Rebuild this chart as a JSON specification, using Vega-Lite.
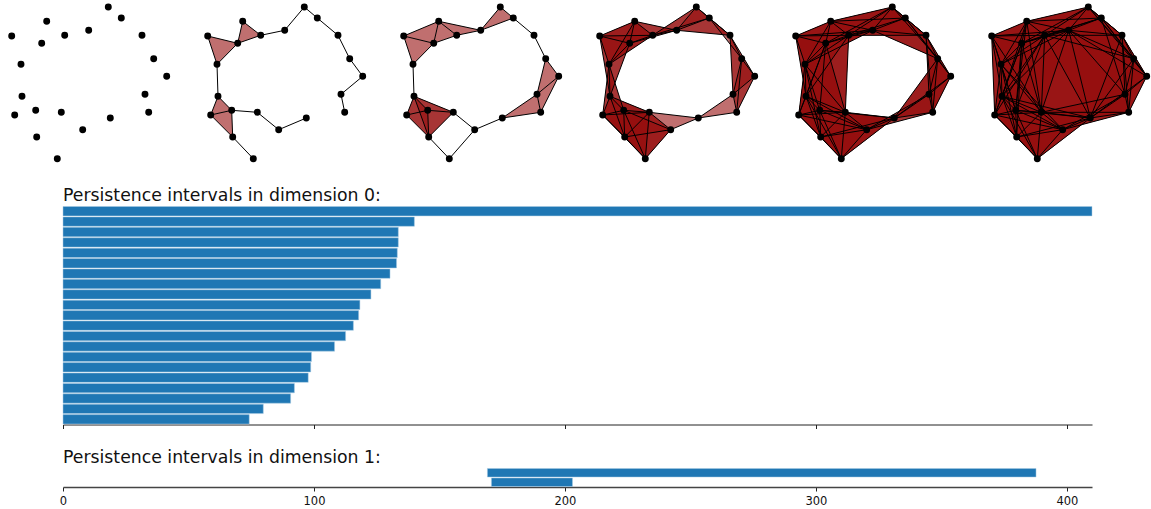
{"$schema":"https://vega.github.io/schema/vega-lite/v6.json","padding":0,"background":"white","config":{"view":{"stroke":null},"font":"DejaVu Sans","title":{"font":"DejaVu Sans","fontSize":17.3,"fontWeight":"normal","color":"#111111","anchor":"start","dx":63,"offset":2}},
"datasets":{
"points":[{"id":"A","x":108.3,"y":7},{"id":"B","x":121.3,"y":18},{"id":"C","x":142,"y":35.3},{"id":"D","x":153.7,"y":58.7},{"id":"E","x":166.7,"y":76.3},{"id":"F","x":145,"y":94.3},{"id":"G","x":148.7,"y":112.3},{"id":"H","x":110.3,"y":118},{"id":"I","x":82.7,"y":129.7},{"id":"J","x":57.3,"y":158.7},{"id":"K","x":36.7,"y":137},{"id":"L","x":14.7,"y":115},{"id":"M","x":35.7,"y":110.3},{"id":"N","x":61.3,"y":112.3},{"id":"O","x":22,"y":96.3},{"id":"P","x":21,"y":64.3},{"id":"Q","x":11.7,"y":36},{"id":"R","x":41.7,"y":43.3},{"id":"S","x":46.7,"y":21.3},{"id":"T","x":64.7,"y":35.3},{"id":"U","x":88.7,"y":30.3}],
"edges":[{"a":"A","b":"B","r":17},{"a":"A","b":"C","r":44},{"a":"A","b":"D","r":68.8},{"a":"A","b":"E","r":90.6},{"a":"A","b":"R","r":75.8},{"a":"A","b":"S","r":63.2},{"a":"A","b":"T","r":52},{"a":"A","b":"U","r":30.4},{"a":"B","b":"C","r":27},{"a":"B","b":"D","r":52},{"a":"B","b":"E","r":73.9},{"a":"B","b":"F","r":79.9},{"a":"B","b":"R","r":83.5},{"a":"B","b":"S","r":74.7},{"a":"B","b":"T","r":59.2},{"a":"B","b":"U","r":34.8},{"a":"C","b":"D","r":26.2},{"a":"C","b":"E","r":47.9},{"a":"C","b":"F","r":59.1},{"a":"C","b":"G","r":77.3},{"a":"C","b":"H","r":88.6},{"a":"C","b":"T","r":77.3},{"a":"C","b":"U","r":53.5},{"a":"D","b":"E","r":21.9},{"a":"D","b":"F","r":36.6},{"a":"D","b":"G","r":53.8},{"a":"D","b":"H","r":73.5},{"a":"D","b":"T","r":92},{"a":"D","b":"U","r":70.9},{"a":"E","b":"F","r":28.2},{"a":"E","b":"G","r":40.2},{"a":"E","b":"H","r":70.1},{"a":"E","b":"U","r":90.6},{"a":"F","b":"G","r":18.4},{"a":"F","b":"H","r":42},{"a":"F","b":"I","r":71.7},{"a":"F","b":"N","r":85.6},{"a":"F","b":"U","r":85.2},{"a":"G","b":"H","r":38.8},{"a":"G","b":"I","r":68.3},{"a":"G","b":"N","r":87.4},{"a":"H","b":"I","r":30},{"a":"H","b":"J","r":66.8},{"a":"H","b":"K","r":76},{"a":"H","b":"M","r":75},{"a":"H","b":"N","r":49.3},{"a":"H","b":"O","r":90.9},{"a":"H","b":"T","r":94.4},{"a":"H","b":"U","r":90.3},{"a":"I","b":"J","r":38.6},{"a":"I","b":"K","r":46.6},{"a":"I","b":"L","r":69.6},{"a":"I","b":"M","r":50.8},{"a":"I","b":"N","r":27.6},{"a":"I","b":"O","r":69.3},{"a":"I","b":"P","r":89.9},{"a":"J","b":"K","r":29.9},{"a":"J","b":"L","r":61},{"a":"J","b":"M","r":53},{"a":"J","b":"N","r":46.6},{"a":"J","b":"O","r":71.7},{"a":"K","b":"L","r":31.1},{"a":"K","b":"M","r":26.7},{"a":"K","b":"N","r":34.9},{"a":"K","b":"O","r":43.3},{"a":"K","b":"P","r":74.4},{"a":"K","b":"R","r":93.8},{"a":"L","b":"M","r":21.5},{"a":"L","b":"N","r":46.7},{"a":"L","b":"O","r":20.1},{"a":"L","b":"P","r":51.1},{"a":"L","b":"Q","r":79.1},{"a":"L","b":"R","r":76.6},{"a":"L","b":"T","r":94},{"a":"M","b":"N","r":25.7},{"a":"M","b":"O","r":19.6},{"a":"M","b":"P","r":48.3},{"a":"M","b":"Q","r":78.1},{"a":"M","b":"R","r":67.3},{"a":"M","b":"S","r":89.7},{"a":"M","b":"T","r":80.4},{"a":"N","b":"O","r":42.4},{"a":"N","b":"P","r":62.7},{"a":"N","b":"Q","r":91},{"a":"N","b":"R","r":71.7},{"a":"N","b":"S","r":92.2},{"a":"N","b":"T","r":77.1},{"a":"N","b":"U","r":86.5},{"a":"O","b":"P","r":32},{"a":"O","b":"Q","r":61.2},{"a":"O","b":"R","r":56.5},{"a":"O","b":"S","r":79},{"a":"O","b":"T","r":74.5},{"a":"O","b":"U","r":93.8},{"a":"P","b":"Q","r":29.8},{"a":"P","b":"R","r":29.5},{"a":"P","b":"S","r":50.1},{"a":"P","b":"T","r":52.4},{"a":"P","b":"U","r":75.8},{"a":"Q","b":"R","r":30.9},{"a":"Q","b":"S","r":38},{"a":"Q","b":"T","r":53},{"a":"Q","b":"U","r":77.2},{"a":"R","b":"S","r":22.6},{"a":"R","b":"T","r":24.4},{"a":"R","b":"U","r":48.8},{"a":"S","b":"T","r":22.8},{"a":"S","b":"U","r":43},{"a":"T","b":"U","r":24.5}],
"triangles":[{"t":"ABC","r":44},{"t":"ABT","r":59.2},{"t":"ABU","r":34.8},{"t":"ACU","r":53.5},{"t":"ATU","r":52},{"t":"BCD","r":52},{"t":"BCU","r":53.5},{"t":"BTU","r":59.2},{"t":"CDE","r":47.9},{"t":"CDF","r":59.1},{"t":"CEF","r":59.1},{"t":"DEF","r":36.6},{"t":"DEG","r":53.8},{"t":"DFG","r":53.8},{"t":"EFG","r":40.2},{"t":"FGH","r":42},{"t":"HIN","r":49.3},{"t":"IJK","r":46.6},{"t":"IJM","r":53},{"t":"IJN","r":46.6},{"t":"IKM","r":50.8},{"t":"IKN","r":46.6},{"t":"IMN","r":50.8},{"t":"JKL","r":61},{"t":"JKM","r":53},{"t":"JKN","r":46.6},{"t":"JLM","r":61},{"t":"JLN","r":61},{"t":"JMN","r":53},{"t":"KLM","r":31.1},{"t":"KLN","r":46.7},{"t":"KLO","r":43.3},{"t":"KMN","r":34.9},{"t":"KMO","r":43.3},{"t":"KNO","r":43.3},{"t":"LMN","r":46.7},{"t":"LMO","r":21.5},{"t":"LMP","r":51.1},{"t":"LNO","r":46.7},{"t":"LOP","r":51.1},{"t":"MNO","r":42.4},{"t":"MOP","r":48.3},{"t":"OPQ","r":61.2},{"t":"OPR","r":56.5},{"t":"OQR","r":61.2},{"t":"PQR","r":30.9},{"t":"PQS","r":50.1},{"t":"PQT","r":53},{"t":"PRS","r":50.1},{"t":"PRT","r":52.4},{"t":"PST","r":52.4},{"t":"QRS","r":38},{"t":"QRT","r":53},{"t":"QST","r":53},{"t":"RST","r":24.4},{"t":"RSU","r":48.8},{"t":"RTU","r":48.8},{"t":"STU","r":43},
{"t":"ABS","r":74.7},{"t":"ARS","r":75.8},{"t":"AST","r":63.2},{"t":"ASU","r":63.2},{"t":"ABD","r":68.8},{"t":"ACD","r":68.8},{"t":"ADU","r":70.9},{"t":"ART","r":75.8},{"t":"ARU","r":75.8},{"t":"BCE","r":73.9},{"t":"BDE","r":73.9},{"t":"BST","r":74.7},{"t":"BSU","r":74.7},{"t":"CDG","r":77.3},{"t":"CEG","r":77.3},{"t":"CFG","r":77.3},{"t":"ACT","r":77.3},{"t":"BCT","r":77.3},{"t":"CTU","r":77.3},{"t":"DEH","r":73.5},{"t":"DFH","r":73.5},{"t":"DGH","r":73.5},{"t":"BDU","r":70.9},{"t":"CDU","r":70.9},{"t":"EFH","r":70.1},{"t":"EGH","r":70.1},{"t":"FGI","r":71.7},{"t":"FHI","r":71.7},{"t":"GHI","r":68.3},{"t":"HIJ","r":66.8},{"t":"HJK","r":76},{"t":"HJM","r":75},{"t":"HJN","r":66.8},{"t":"HIK","r":76},{"t":"HKM","r":76},{"t":"HKN","r":76},{"t":"HIM","r":75},{"t":"HMN","r":75},{"t":"IJL","r":69.6},{"t":"IKL","r":69.6},{"t":"ILM","r":69.6},{"t":"ILN","r":69.6},{"t":"ILO","r":69.6},{"t":"IJO","r":71.7},{"t":"IKO","r":69.3},{"t":"IMO","r":69.3},{"t":"INO","r":69.3},{"t":"JKO","r":71.7},{"t":"JLO","r":71.7},{"t":"JMO","r":71.7},{"t":"JNO","r":71.7},{"t":"KLP","r":74.4},{"t":"KMP","r":74.4},{"t":"KNP","r":74.4},{"t":"KOP","r":74.4},{"t":"LMR","r":76.6},{"t":"LNR","r":76.6},{"t":"LOR","r":76.6},{"t":"LPR","r":76.6},{"t":"MNR","r":71.7},{"t":"MOR","r":67.3},{"t":"MPR","r":67.3},{"t":"LNP","r":62.7},{"t":"MNP","r":62.7},{"t":"NOP","r":62.7},{"t":"NPR","r":71.7},{"t":"NPT","r":77.1},{"t":"NOR","r":71.7},{"t":"NRT","r":77.1},{"t":"NOT","r":77.1},{"t":"OPT","r":74.5},{"t":"OQT","r":74.5},{"t":"ORT","r":74.5},{"t":"PQU","r":77.2},{"t":"PRU","r":75.8},{"t":"PSU","r":75.8},{"t":"PTU","r":75.8},{"t":"QRU","r":77.2},{"t":"QSU","r":77.2},{"t":"QTU","r":77.2},
{"t":"CFU","r":85.2},{"t":"CHU","r":90.3},{"t":"DHU","r":90.3},{"t":"FHU","r":90.3},{"t":"FNU","r":86.5},{"t":"HNU","r":90.3},{"t":"NTU","r":86.5},{"t":"NRU","r":86.5},{"t":"NPU","r":86.5},{"t":"CDH","r":88.6},{"t":"CFH","r":88.6},{"t":"CGH","r":88.6},{"t":"CEH","r":88.6},{"t":"FGN","r":87.4},{"t":"FHN","r":85.6},{"t":"FIN","r":85.6},{"t":"GHN","r":87.4},{"t":"GIN","r":87.4},{"t":"CEU","r":90.6},{"t":"DEU","r":90.6},{"t":"DFU","r":85.2},{"t":"DTU","r":92},{"t":"CDT","r":92},{"t":"BCF","r":79.9},{"t":"BDF","r":79.9},{"t":"BEF","r":79.9},{"t":"ABR","r":83.5},{"t":"BRS","r":83.5},{"t":"BRT","r":83.5},{"t":"BRU","r":83.5},{"t":"MNT","r":80.4},{"t":"MOT","r":80.4},{"t":"MPT","r":80.4},{"t":"MRT","r":80.4},{"t":"ABE","r":90.6},{"t":"ACE","r":90.6},{"t":"ADE","r":90.6},{"t":"HNO","r":90.9},{"t":"HIO","r":90.9},{"t":"HMO","r":90.9},{"t":"LOQ","r":79.1},{"t":"LPQ","r":79.1},{"t":"LQR","r":79.1},{"t":"MOQ","r":78.1},{"t":"MPQ","r":78.1},{"t":"MQR","r":78.1},{"t":"NQR","r":91},{"t":"NQT","r":91},{"t":"NQU","r":91},{"t":"MST","r":89.7},{"t":"OPS","r":79},{"t":"ORS","r":79},{"t":"OST","r":79},{"t":"NRS","r":92.2},{"t":"NST","r":92.2},{"t":"NSU","r":92.2},{"t":"IOP","r":89.9},{"t":"IKP","r":89.9},{"t":"ILP","r":89.9},{"t":"IMP","r":89.9},{"t":"INP","r":89.9},{"t":"HTU","r":94.4},{"t":"HNT","r":94.4},{"t":"DHT","r":94.4},{"t":"CHT","r":94.4},{"t":"OTU","r":93.8},{"t":"ORU","r":93.8},{"t":"OPU","r":93.8},{"t":"OQU","r":93.8},{"t":"OSU","r":93.8},{"t":"NOU","r":93.8},{"t":"HOU","r":93.8},{"t":"KOR","r":93.8},{"t":"KLR","r":93.8},{"t":"KMR","r":93.8},{"t":"KNR","r":93.8},{"t":"KPR","r":93.8},{"t":"LMT","r":94},{"t":"LNT","r":94},{"t":"LOT","r":94},{"t":"LPT","r":94},{"t":"LRT","r":94}],
"dim0":[{"rank":1,"start":0,"end":410},{"rank":2,"start":0,"end":140},{"rank":3,"start":0,"end":133.6},{"rank":4,"start":0,"end":133.6},{"rank":5,"start":0,"end":133.2},{"rank":6,"start":0,"end":132.9},{"rank":7,"start":0,"end":130.3},{"rank":8,"start":0,"end":126.6},{"rank":9,"start":0,"end":122.7},{"rank":10,"start":0,"end":118.3},{"rank":11,"start":0,"end":117.8},{"rank":12,"start":0,"end":115.7},{"rank":13,"start":0,"end":112.6},{"rank":14,"start":0,"end":108.2},{"rank":15,"start":0,"end":99},{"rank":16,"start":0,"end":98.7},{"rank":17,"start":0,"end":97.7},{"rank":18,"start":0,"end":92.2},{"rank":19,"start":0,"end":90.7},{"rank":20,"start":0,"end":79.8},{"rank":21,"start":0,"end":74.2}],
"dim1":[{"rank":1,"start":169.1,"end":387.7},{"rank":2,"start":170.7,"end":203}]
},
"spacing":19,
"vconcat":[
{"spacing":0,"hconcat":[
{"width":196,"height":167,"data":{"name":"points"},"mark":{"type":"point","filled":true,"color":"black","size":48,"opacity":1},"encoding":{"x":{"field":"x","type":"quantitative","axis":null,"scale":{"domain":[0,196],"nice":false,"zero":false}},"y":{"field":"y","type":"quantitative","axis":null,"scale":{"domain":[0,167],"reverse":true,"nice":false,"zero":false}}}},
{"width":196,"height":167,"encoding":{"x":{"field":"x","type":"quantitative","axis":null,"scale":{"domain":[0,196],"nice":false,"zero":false}},"y":{"field":"y","type":"quantitative","axis":null,"scale":{"domain":[0,167],"reverse":true,"nice":false,"zero":false}}},"layer":[
{"data":{"name":"triangles"},"transform":[{"filter":"datum.r<=33.5"},{"calculate":"split(datum.t,'')","as":"v"},{"flatten":["v"]},{"lookup":"v","from":{"data":{"name":"points"},"key":"id","fields":["x","y"]}}],"mark":{"type":"line","fill":"#960f0f","fillOpacity":0.6,"stroke":null,"interpolate":"linear-closed"},"encoding":{"detail":{"field":"t"},"order":{"field":"v"}}},
{"data":{"name":"edges"},"transform":[{"filter":"datum.r<=33.5"},{"lookup":"a","from":{"data":{"name":"points"},"key":"id","fields":["x","y"]}},{"lookup":"b","from":{"data":{"name":"points"},"key":"id","fields":["x","y"]},"as":["x2","y2"]}],"mark":{"type":"rule","color":"black","strokeWidth":1},"encoding":{"x2":{"field":"x2"},"y2":{"field":"y2"}}},
{"data":{"name":"points"},"mark":{"type":"point","filled":true,"color":"black","size":48,"opacity":1}}]},
{"width":196,"height":167,"encoding":{"x":{"field":"x","type":"quantitative","axis":null,"scale":{"domain":[0,196],"nice":false,"zero":false}},"y":{"field":"y","type":"quantitative","axis":null,"scale":{"domain":[0,167],"reverse":true,"nice":false,"zero":false}}},"layer":[
{"data":{"name":"triangles"},"transform":[{"filter":"datum.r<=43.7"},{"calculate":"split(datum.t,'')","as":"v"},{"flatten":["v"]},{"lookup":"v","from":{"data":{"name":"points"},"key":"id","fields":["x","y"]}}],"mark":{"type":"line","fill":"#960f0f","fillOpacity":0.6,"stroke":null,"interpolate":"linear-closed"},"encoding":{"detail":{"field":"t"},"order":{"field":"v"}}},
{"data":{"name":"edges"},"transform":[{"filter":"datum.r<=43.7"},{"lookup":"a","from":{"data":{"name":"points"},"key":"id","fields":["x","y"]}},{"lookup":"b","from":{"data":{"name":"points"},"key":"id","fields":["x","y"]},"as":["x2","y2"]}],"mark":{"type":"rule","color":"black","strokeWidth":1},"encoding":{"x2":{"field":"x2"},"y2":{"field":"y2"}}},
{"data":{"name":"points"},"mark":{"type":"point","filled":true,"color":"black","size":48,"opacity":1}}]},
{"width":196,"height":167,"encoding":{"x":{"field":"x","type":"quantitative","axis":null,"scale":{"domain":[0,196],"nice":false,"zero":false}},"y":{"field":"y","type":"quantitative","axis":null,"scale":{"domain":[0,167],"reverse":true,"nice":false,"zero":false}}},"layer":[
{"data":{"name":"triangles"},"transform":[{"filter":"datum.r<=61.5"},{"calculate":"split(datum.t,'')","as":"v"},{"flatten":["v"]},{"lookup":"v","from":{"data":{"name":"points"},"key":"id","fields":["x","y"]}}],"mark":{"type":"line","fill":"#960f0f","fillOpacity":0.6,"stroke":null,"interpolate":"linear-closed"},"encoding":{"detail":{"field":"t"},"order":{"field":"v"}}},
{"data":{"name":"edges"},"transform":[{"filter":"datum.r<=61.5"},{"lookup":"a","from":{"data":{"name":"points"},"key":"id","fields":["x","y"]}},{"lookup":"b","from":{"data":{"name":"points"},"key":"id","fields":["x","y"]},"as":["x2","y2"]}],"mark":{"type":"rule","color":"black","strokeWidth":1},"encoding":{"x2":{"field":"x2"},"y2":{"field":"y2"}}},
{"data":{"name":"points"},"mark":{"type":"point","filled":true,"color":"black","size":48,"opacity":1}}]},
{"width":196,"height":167,"encoding":{"x":{"field":"x","type":"quantitative","axis":null,"scale":{"domain":[0,196],"nice":false,"zero":false}},"y":{"field":"y","type":"quantitative","axis":null,"scale":{"domain":[0,167],"reverse":true,"nice":false,"zero":false}}},"layer":[
{"data":{"name":"triangles"},"transform":[{"filter":"datum.r<=78"},{"calculate":"split(datum.t,'')","as":"v"},{"flatten":["v"]},{"lookup":"v","from":{"data":{"name":"points"},"key":"id","fields":["x","y"]}}],"mark":{"type":"line","fill":"#960f0f","fillOpacity":0.6,"stroke":null,"interpolate":"linear-closed"},"encoding":{"detail":{"field":"t"},"order":{"field":"v"}}},
{"data":{"name":"edges"},"transform":[{"filter":"datum.r<=78"},{"lookup":"a","from":{"data":{"name":"points"},"key":"id","fields":["x","y"]}},{"lookup":"b","from":{"data":{"name":"points"},"key":"id","fields":["x","y"]},"as":["x2","y2"]}],"mark":{"type":"rule","color":"black","strokeWidth":1},"encoding":{"x2":{"field":"x2"},"y2":{"field":"y2"}}},
{"data":{"name":"points"},"mark":{"type":"point","filled":true,"color":"black","size":48,"opacity":1}}]},
{"width":171,"height":167,"encoding":{"x":{"field":"x","type":"quantitative","axis":null,"scale":{"domain":[0,171],"nice":false,"zero":false}},"y":{"field":"y","type":"quantitative","axis":null,"scale":{"domain":[0,167],"reverse":true,"nice":false,"zero":false}}},"layer":[
{"data":{"name":"triangles"},"transform":[{"filter":"datum.r<=95"},{"calculate":"split(datum.t,'')","as":"v"},{"flatten":["v"]},{"lookup":"v","from":{"data":{"name":"points"},"key":"id","fields":["x","y"]}}],"mark":{"type":"line","fill":"#960f0f","fillOpacity":0.6,"stroke":null,"interpolate":"linear-closed"},"encoding":{"detail":{"field":"t"},"order":{"field":"v"}}},
{"data":{"name":"edges"},"transform":[{"filter":"datum.r<=95"},{"lookup":"a","from":{"data":{"name":"points"},"key":"id","fields":["x","y"]}},{"lookup":"b","from":{"data":{"name":"points"},"key":"id","fields":["x","y"]},"as":["x2","y2"]}],"mark":{"type":"rule","color":"black","strokeWidth":1},"encoding":{"x2":{"field":"x2"},"y2":{"field":"y2"}}},
{"data":{"name":"points"},"mark":{"type":"point","filled":true,"color":"black","size":48,"opacity":1}}]}
]},
{"width":1151,"height":218.5,"title":"Persistence intervals in dimension 0:","data":{"name":"dim0"},"mark":{"type":"bar","color":"#1f77b4","stroke":"#a9cbe3","strokeWidth":0.5},"encoding":{"y":{"field":"rank","type":"ordinal","axis":null,"scale":{"paddingInner":0.1,"paddingOuter":0.05}},"x":{"field":"start","type":"quantitative","scale":{"domain":[0,410],"range":[63,1092],"nice":false,"zero":false},"axis":{"title":null,"labels":false,"values":[0,100,200,300,400],"grid":false,"domainColor":"#222222","tickColor":"#222222","tickSize":4}},"x2":{"field":"end"}}},
{"width":1151,"height":19,"title":"Persistence intervals in dimension 1:","data":{"name":"dim1"},"mark":{"type":"bar","color":"#1f77b4","stroke":"#a9cbe3","strokeWidth":0.5},"encoding":{"y":{"field":"rank","type":"ordinal","axis":null,"scale":{"paddingInner":0.1,"paddingOuter":0.05}},"x":{"field":"start","type":"quantitative","scale":{"domain":[0,410],"range":[63,1092],"nice":false,"zero":false},"axis":{"title":null,"values":[0,100,200,300,400],"grid":false,"domainColor":"#444444","domainWidth":1.5,"tickColor":"#222222","tickSize":4,"labelFont":"DejaVu Sans","labelFontSize":11.5,"labelColor":"#111111","labelPadding":4,"labelFlush":false}},"x2":{"field":"end"}}}
]}
